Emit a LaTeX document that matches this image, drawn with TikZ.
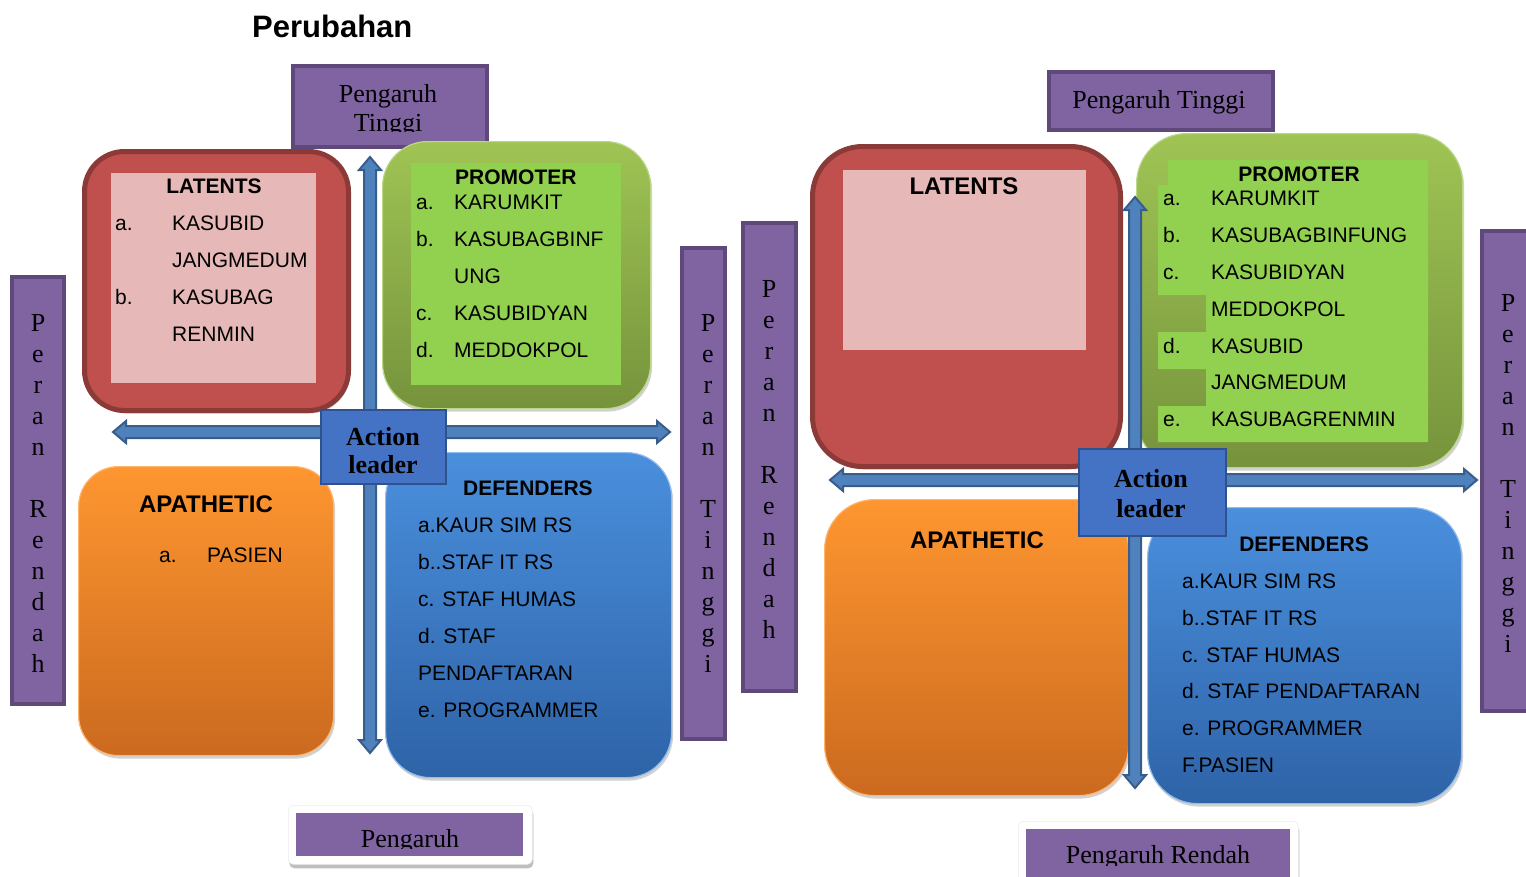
\documentclass[tikz,border=0pt]{standalone}
\usepackage{fontspec}
\setmainfont{Liberation Serif}
\newfontfamily\arialfont{Liberation Sans}
\usetikzlibrary{shadows}

\definecolor{purplefill}{HTML}{8064A2}
\definecolor{purpleedge}{HTML}{5F497A}
\definecolor{redfill}{HTML}{C0504D}
\definecolor{rededge}{HTML}{8C3A38}
\definecolor{pinkfill}{HTML}{E6B9B8}
\definecolor{greentop}{HTML}{9FC454}
\definecolor{greenbot}{HTML}{76933C}
\definecolor{greeninner}{HTML}{92D050}
\definecolor{orangetop}{HTML}{FE9630}
\definecolor{orangebot}{HTML}{CB6A1F}
\definecolor{bluetop}{HTML}{4A8FDD}
\definecolor{bluebot}{HTML}{2E63A7}
\definecolor{arrowfill}{HTML}{4F81BD}
\definecolor{arrowedge}{HTML}{385D8A}
\definecolor{actionfill}{HTML}{4472C4}
\definecolor{actionedge}{HTML}{2F528F}

\tikzset{
  box/.style={rectangle, inner sep=0pt, anchor=north west},
  softshadow/.style={drop shadow={shadow xshift=1.5pt, shadow yshift=-3pt, opacity=0.18, fill=black}},
  purplebar/.style={box, draw=purpleedge, fill=purplefill, line width=4pt},
  redquad/.style={box, draw=rededge, fill=redfill, line width=5pt, softshadow},
  pinkpanel/.style={box, fill=pinkfill},
  greenquad/.style={box, top color=greentop, bottom color=greenbot, draw=greentop!70!white, line width=1.2pt, softshadow},
  greenpanel/.style={box, fill=greeninner},
  orangequad/.style={box, top color=orangetop, bottom color=orangebot, draw=orangetop!70!white, line width=1.2pt, softshadow},
  bluequad/.style={box, top color=bluetop, bottom color=bluebot, draw=bluetop!60!white, line width=1.2pt, softshadow},
  actionbox/.style={box, draw=actionedge, fill=actionfill, line width=2pt},
  whitecard/.style={box, fill=white, draw=black!8, line width=0.6pt, rounded corners=5pt,
    drop shadow={shadow xshift=1pt, shadow yshift=-4pt, opacity=0.25, fill=black}},
  blockarrow/.style={fill=arrowfill, draw=arrowedge, line width=2pt, line join=miter},
  itemtxt/.style={font=\arialfont\fontsize{21}{25}\selectfont, inner sep=0pt, anchor=base west},
  headtxt/.style={font=\arialfont\bfseries\fontsize{21}{25}\selectfont, inner sep=0pt, anchor=base},
  bighead/.style={font=\arialfont\bfseries\fontsize{24}{28}\selectfont, inner sep=0pt, anchor=base},
  seriftxt/.style={font=\fontsize{26}{30}\selectfont, inner sep=0pt, anchor=base},
  actiontxt/.style={font=\bfseries\fontsize{26}{30}\selectfont, inner sep=0pt, anchor=base},
  vletter/.style={font=\fontsize{26}{30}\selectfont, inner sep=0pt, anchor=base},
}

% rectangle node given by its corners (x1,y1) and (x2,y2)
\newcommand\rectnode[6]{%
  \node[#1, minimum width={#4-#2}, minimum height={#5-#3}] (#6) at (#2,#3) {};}

% double-headed block arrows
\newcommand\hblockarrow[4]{% name, y, x1, x2
  \draw[blockarrow] (#3,#2) coordinate (#1-a) -- ({#3+13},{#2-11}) -- ({#3+13},{#2-6})
    -- ({#4-13},{#2-6}) -- ({#4-13},{#2-11}) -- (#4,#2) coordinate (#1-b) -- ({#4-13},{#2+11})
    -- ({#4-13},{#2+6}) -- ({#3+13},{#2+6}) -- ({#3+13},{#2+11}) -- cycle;}
\newcommand\vblockarrow[4]{% name, x, y1, y2
  \draw[blockarrow] (#2,#3) coordinate (#1-a) -- ({#2+11},{#3+13}) -- ({#2+6},{#3+13})
    -- ({#2+6},{#4-13}) -- ({#2+11},{#4-13}) -- (#2,#4) coordinate (#1-b) -- ({#2-11},{#4-13})
    -- ({#2-6},{#4-13}) -- ({#2-6},{#3+13}) -- ({#2-11},{#3+13}) -- cycle;}

% a word written one letter per line
\newcommand\stackword[5]{% name, x, first baseline, step, letters
  \foreach \ch [count=\k from 0] in {#5}
    \node[vletter] (#1-\k) at (#2,{#3+#4*\k}) {\ch};}

\begin{document}
\begin{tikzpicture}[x=1pt,y=-1pt]
\useasboundingbox (0,0) rectangle (1526,876);

% ---------- title ----------
\node[font=\arialfont\bfseries\fontsize{31}{36}\selectfont, inner sep=0pt, anchor=base west] (title) at (252,37) {Perubahan};

% =================== first matrix ===================
\rectnode{purplebar}{291}{64}{485}{145}{ptL}
\begin{scope}
  \clip (291,64) rectangle (485,131);
  \node[seriftxt] (ptL-1) at (388,102) {Pengaruh};
  \node[seriftxt] (ptL-2) at (388,131) {Tinggi};
\end{scope}

\rectnode{purplebar}{10}{275}{62}{702}{prL}
\rectnode{purplebar}{680}{246}{723}{737}{ptiL}

\rectnode{redquad, rounded corners=40pt}{82}{149}{346}{408}{latL}
\rectnode{pinkpanel}{111}{173}{316}{383}{latLin}
\rectnode{greenquad, rounded corners=45pt}{382}{141}{650}{408}{proL}
\rectnode{greenpanel}{411}{163}{621}{385}{proLin}
\rectnode{orangequad, rounded corners=40pt}{78}{466}{333}{755}{apaL}
\rectnode{bluequad, rounded corners=45pt}{385}{452}{671}{777}{defL}

\vblockarrow{vaL}{370}{157}{753}
\hblockarrow{haL}{432}{113}{670}

\rectnode{actionbox}{320}{409}{445}{483}{actL}
\begin{scope}
  \clip (320,409) rectangle (445,475);
  \node[actiontxt] (actL-1) at (383,445) {Action};
  \node[actiontxt] (actL-2) at (383,473) {leader};
\end{scope}

\rectnode{whitecard}{288}{805}{532}{864}{cardL}
\rectnode{box, fill=purplefill}{296}{813}{523}{856}{prgL}
\begin{scope}
  \clip (296,813) rectangle (523,848);
  \node[seriftxt] (prgL-t) at (410,847) {Pengaruh};
\end{scope}

% texts, first matrix
\node[headtxt] (latL-h) at (214,193) {LATENTS};
\node[itemtxt] (latL-a) at (115,230) {a.};
\node[itemtxt] (latL-a1) at (172,230) {KASUBID};
\node[itemtxt] (latL-a2) at (172,267) {JANGMEDUM};
\node[itemtxt] (latL-b) at (115,304) {b.};
\node[itemtxt] (latL-b1) at (172,304) {KASUBAG};
\node[itemtxt] (latL-b2) at (172,341) {RENMIN};

\node[headtxt, anchor=base west] (proL-h) at (455,184) {PROMOTER};
\node[itemtxt] (proL-a) at (416,209) {a.};
\node[itemtxt] (proL-a1) at (454,209) {KARUMKIT};
\node[itemtxt] (proL-b) at (416,246) {b.};
\node[itemtxt] (proL-b1) at (454,246) {KASUBAGBINF};
\node[itemtxt] (proL-b2) at (454,283) {UNG};
\node[itemtxt] (proL-c) at (416,320) {c.};
\node[itemtxt] (proL-c1) at (454,320) {KASUBIDYAN};
\node[itemtxt] (proL-d) at (416,357) {d.};
\node[itemtxt] (proL-d1) at (454,357) {MEDDOKPOL};

\node[bighead] (apaL-h) at (206,512) {APATHETIC};
\node[itemtxt] (apaL-a) at (159,562) {a.};
\node[itemtxt] (apaL-a1) at (207,562) {PASIEN};

\node[headtxt] (defL-h) at (528,495) {DEFENDERS};
\node[itemtxt] (defL-1) at (418,532) {a.KAUR SIM RS};
\node[itemtxt] (defL-2) at (418,569) {b..STAF IT RS};
\node[itemtxt] (defL-3) at (418,606) {c. STAF HUMAS};
\node[itemtxt] (defL-4) at (418,643) {d. STAF};
\node[itemtxt] (defL-5) at (418,680) {PENDAFTARAN};
\node[itemtxt] (defL-6) at (418,717) {e. PROGRAMMER};

\stackword{prL-t}{38}{331}{31}{P,e,r,a,n,,R,e,n,d,a,h}
\stackword{ptiL-t}{708}{331}{31}{P,e,r,a,n,,T,i,n,g,g,i}

% =================== second matrix ===================
\rectnode{purplebar}{1047}{70}{1271}{128}{ptR}
\node[seriftxt] (ptR-t) at (1159,108) {Pengaruh Tinggi};

\rectnode{purplebar}{741}{221}{794}{689}{prR}
\rectnode{purplebar}{1480}{229}{1532}{709}{ptiR}

\rectnode{redquad, rounded corners=50pt}{810}{144}{1118}{464}{latR}
\rectnode{pinkpanel}{843}{170}{1086}{350}{latRin}
\rectnode{greenquad, rounded corners=50pt}{1136}{133}{1462}{467}{proR}
\fill[greeninner] (1168,160) -- (1428,160) -- (1428,442) -- (1158,442) -- (1158,406)
  -- (1206,406) -- (1206,369) -- (1158,369) -- (1158,332) -- (1206,332) -- (1206,295)
  -- (1158,295) -- (1158,185) -- (1168,185) -- cycle;
\rectnode{orangequad, rounded corners=50pt}{824}{499}{1128}{795}{apaR}
\rectnode{bluequad, rounded corners=50pt}{1147}{507}{1461}{803}{defR}

\vblockarrow{vaR}{1135}{197}{788}
\hblockarrow{haR}{480}{830}{1477}

\rectnode{actionbox}{1078}{448}{1225}{535}{actR}
\node[actiontxt] (actR-1) at (1151,487) {Action};
\node[actiontxt] (actR-2) at (1151,517) {leader};

\rectnode{whitecard}{1018}{821}{1298}{890}{cardR}
\rectnode{box, fill=purplefill}{1026}{829}{1290}{890}{prgR}
\begin{scope}
  \clip (1026,829) rectangle (1290,865);
  \node[seriftxt] (prgR-t) at (1158,863) {Pengaruh Rendah};
\end{scope}

% texts, second matrix
\node[bighead] (latR-h) at (964,194) {LATENTS};

\node[headtxt] (proR-h) at (1299,181) {PROMOTER};
\node[itemtxt] (proR-a) at (1163,205) {a.};
\node[itemtxt] (proR-a1) at (1211,205) {KARUMKIT};
\node[itemtxt] (proR-b) at (1163,242) {b.};
\node[itemtxt] (proR-b1) at (1211,242) {KASUBAGBINFUNG};
\node[itemtxt] (proR-c) at (1163,279) {c.};
\node[itemtxt] (proR-c1) at (1211,279) {KASUBIDYAN};
\node[itemtxt] (proR-c2) at (1211,316) {MEDDOKPOL};
\node[itemtxt] (proR-d) at (1163,353) {d.};
\node[itemtxt] (proR-d1) at (1211,353) {KASUBID};
\node[itemtxt] (proR-d2) at (1211,389) {JANGMEDUM};
\node[itemtxt] (proR-e) at (1163,426) {e.};
\node[itemtxt] (proR-e1) at (1211,426) {KASUBAGRENMIN};

\node[bighead] (apaR-h) at (977,548) {APATHETIC};

\node[headtxt] (defR-h) at (1304,551) {DEFENDERS};
\node[itemtxt] (defR-1) at (1182,588) {a.KAUR SIM RS};
\node[itemtxt] (defR-2) at (1182,625) {b..STAF IT RS};
\node[itemtxt] (defR-3) at (1182,662) {c. STAF HUMAS};
\node[itemtxt] (defR-4) at (1182,698) {d. STAF PENDAFTARAN};
\node[itemtxt] (defR-5) at (1182,735) {e. PROGRAMMER};
\node[itemtxt] (defR-6) at (1182,772) {F.PASIEN};

\stackword{prR-t}{769}{297}{31}{P,e,r,a,n,,R,e,n,d,a,h}
\stackword{ptiR-t}{1508}{311}{31}{P,e,r,a,n,,T,i,n,g,g,i}

\end{tikzpicture}
\end{document}
